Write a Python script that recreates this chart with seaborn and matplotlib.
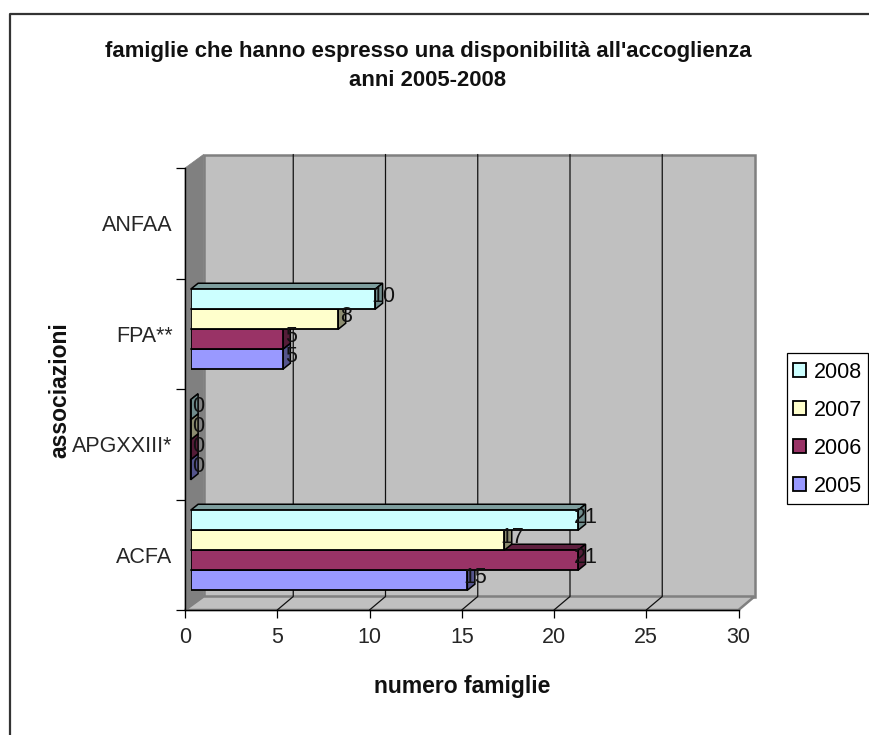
import numpy as np
import pandas as pd
import seaborn as sns
import matplotlib.pyplot as plt
from matplotlib.patches import Polygon, Rectangle
from matplotlib.colors import to_rgb

associazioni = ["ANFAA", "FPA**", "APGXXIII*", "ACFA"]
anni = ["2008", "2007", "2006", "2005"]
val_2008 = [np.nan, 10, 0, 21]
val_2007 = [np.nan, 8, 0, 17]
val_2006 = [np.nan, 5, 0, 21]
val_2005 = [np.nan, 5, 0, 15]
colori = ["#CCFFFF", "#FFFFCC", "#993366", "#9999FF"]
x_ticks = [0, 5, 10, 15, 20, 25, 30]

W, H = 869, 735
sns.set_style("white")
plt.rcParams["font.family"] = ["Liberation Sans", "DejaVu Sans"]

df = pd.DataFrame({"associazione": associazioni * 4,
                   "anno": np.repeat(anni, 4),
                   "famiglie": val_2008 + val_2007 + val_2006 + val_2005})
df = df.dropna()

fig = plt.figure(figsize=(W / 100, H / 100), dpi=100)


def px_axes(left, top, right, bottom):
    return fig.add_axes([left / W, 1 - bottom / H, (right - left) / W, (bottom - top) / H])


# background in pixel coordinates: frame, walls and floor
bg = fig.add_axes([0, 0, 1, 1], zorder=0)
bg.set_xlim(0, W)
bg.set_ylim(H, 0)
bg.axis("off")
bg.plot([W, 9.5, 9.5], [13.5, 13.5, H], color="#333333", lw=1.6)

x0, x1, y0, y1 = 185, 738.5, 168, 610   # front plane
ox, oy = 16, -13.5                      # depth of the box
wl = x0 + 18.5                          # left edge of the back wall
bg.add_patch(Polygon([(wl, y0 + oy), (x1 + ox, y0 + oy), (x1 + ox, y1 + oy), (wl, y1 + oy)],
                     fc="#C0C0C0", ec="#808080", lw=1.8))
bg.add_patch(Polygon([(x0, y1), (x1, y1), (x1 + ox, y1 + oy), (wl, y1 + oy)],
                     fc="#C0C0C0", ec="#808080", lw=1.8))
bg.add_patch(Polygon([(x0, y0), (wl, y0 + oy), (wl, y1 + oy), (x0, y1)],
                     fc="#808080", ec="#808080", lw=0.5))
for t in x_ticks[1:-1]:
    xp = x0 + (x1 - x0) * t / x_ticks[-1]
    bg.plot([xp, xp + ox, xp + ox], [y1, y1 + oy, y0 + oy], color="#111111", lw=0.9)

# front axes, only ticks and labels
ax = px_axes(x0, y0, x1, y1)
ax.set_zorder(1)
ax.patch.set_alpha(0)
ax.set_xlim(0, x_ticks[-1])
ax.set_ylim(3.5, -0.5)
for s in ["top", "right"]:
    ax.spines[s].set_visible(False)
for s in ["left", "bottom"]:
    ax.spines[s].set_color("black")
    ax.spines[s].set_linewidth(1.0)
ax.set_xticks(x_ticks)
ax.set_yticks(np.arange(-0.5, 4))
ax.set_yticklabels([])
ax.set_yticks(np.arange(4), labels=associazioni, minor=True)
ax.tick_params(axis="x", which="major", length=6, width=0.9, color="black", bottom=True, labelsize=15.5, pad=6.5)
ax.tick_params(axis="y", which="major", length=6.5, width=0.9, color="black", left=True)
ax.tick_params(axis="y", which="minor", length=0, labelsize=15.5, pad=9)

# bars sit a little inside the box
bx, by = 5.6, -4.5
ax2 = px_axes(x0 + bx, y0 + by, x1 + bx, y1 + by)
ax2.set_zorder(2)
sns.barplot(data=df, y="associazione", x="famiglie", hue="anno", order=associazioni, hue_order=anni,
            palette=colori, width=0.724, orient="h", ax=ax2, edgecolor="black", linewidth=1.3, saturation=1)
ax2.set_xlim(0, x_ticks[-1])
ax2.set_ylim(3.5, -0.5)
ax2.patch.set_alpha(0)
ax2.set_xlabel("")
ax2.set_ylabel("")
handles, labels = ax2.get_legend_handles_labels()
ax2.get_legend().remove()
ax2.axis("off")

dx = 7.5 * x_ticks[-1] / (x1 - x0)
dy = 6.0 * 4 / (y1 - y0)
# seaborn also leaves empty rectangles for the legend, skip those
bars = [p for p in ax2.patches if isinstance(p, Rectangle) and p.get_height() > 0]
bars.sort(key=lambda p: -p.get_y())
for i, p in enumerate(bars):
    xa, ya, w, h = p.get_x(), p.get_y(), p.get_width(), p.get_height()
    col = np.array(to_rgb(p.get_facecolor()[:3]))
    z = 3 + i
    ax2.add_patch(Polygon([(xa, ya), (xa + w, ya), (xa + w + dx, ya - dy), (xa + dx, ya - dy)],
                          fc=col * 0.62, ec="black", lw=1.1, zorder=z, clip_on=False))
    ax2.add_patch(Polygon([(xa + w, ya), (xa + w + dx, ya - dy), (xa + w + dx, ya + h - dy), (xa + w, ya + h)],
                          fc=col * 0.55, ec="black", lw=1.1, zorder=z, clip_on=False))
    p.set_zorder(z + 0.5)
    ax2.annotate(f"{w:.0f}", (xa + w, ya + h / 2), xytext=(5.6, 2.2), textcoords="offset points",
                 ha="center", va="center", fontsize=15.5, color="#111111", zorder=50, annotation_clip=False)

fig.text(428 / W, 1 - 52 / H, "famiglie che hanno espresso una disponibilità all'accoglienza",
         ha="center", va="center", fontsize=15.9, fontweight="bold", color="#111111")
fig.text(428 / W, 1 - 81 / H, "anni 2005-2008",
         ha="center", va="center", fontsize=15.9, fontweight="bold", color="#111111")
fig.text(462 / W, 1 - 686 / H, "numero famiglie", ha="center", va="center",
         fontsize=16.5, fontweight="bold", color="#111111")
fig.text(60 / W, 1 - 390 / H, "associazioni", ha="center", va="center", rotation=90,
         fontsize=16.5, fontweight="bold", color="#111111")

# legend box drawn apart so its width can match
bg.add_patch(Rectangle((787, 353), 81, 151, fc="white", ec="black", lw=0.9))
leg = fig.legend(handles, labels, loc="upper left", bbox_to_anchor=(793 / W, 1 - 362 / H), bbox_transform=fig.transFigure,
                 fontsize=15.5, frameon=False,
                 handlelength=0.62, handleheight=0.62, handletextpad=0.36, labelspacing=0.79,
                 borderpad=0, borderaxespad=0, labelcolor="black")
leg.set_zorder(60)
for h in leg.get_patches():
    h.set_edgecolor("black")
    h.set_linewidth(1.3)

fig.savefig("out.png", dpi=100)
